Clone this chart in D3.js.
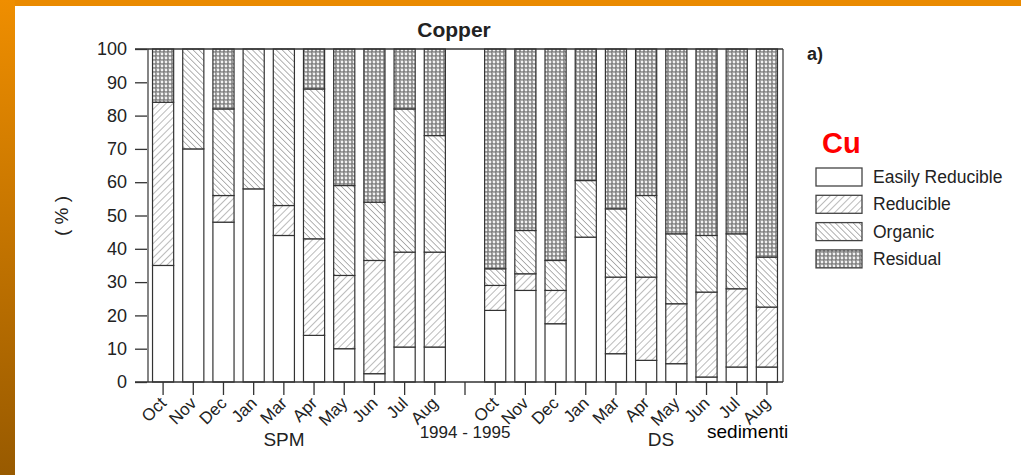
<!DOCTYPE html>
<html><head><meta charset="utf-8">
<script src="https://cdn.jsdelivr.net/npm/d3@7"></script>
<style>
html,body{margin:0;padding:0;background:#fff;}
svg{display:block;font-family:"Liberation Sans",Arial,sans-serif;}
</style></head>
<body>
<svg id="c" width="1021" height="475"></svg>
<script>
// ---- data ----
const monthsSPM = ["Oct","Nov","Dec","Jan","Mar","Apr","May","Jun","Jul","Aug"];
const monthsDS  = ["Oct","Nov","Dec","Jan","Mar","Apr","May","Jun","Jul","Aug"];
const fractions = ["Easily Reducible","Reducible","Organic","Residual"];
// SPM (suspended particulate matter)
const spmEasily    = [35, 70, 48, 58, 44, 14, 10, 2.5, 10.5, 10.5];
const spmReducible = [49, 0, 8, 0, 9, 29, 22, 34, 28.5, 28.5];
const spmOrganic   = [0, 30, 26, 42, 47, 45, 27, 17.5, 43, 35];
const spmResidual  = [16, 0, 18, 0, 0, 12, 41, 46, 18, 26];
// DS (deposited sediments)
const dsEasily     = [21.5, 27.5, 17.5, 43.5, 8.5, 6.5, 5.5, 1.5, 4.5, 4.5];
const dsReducible  = [7.5, 5, 10, 0, 23, 25, 18, 25.5, 23.5, 18];
const dsOrganic    = [5, 13, 9, 17, 20.5, 24.5, 21, 17, 16.5, 15];
const dsResidual   = [66, 54.5, 63.5, 39.5, 48, 44, 55.5, 56, 55.5, 62.5];
const yTicks = [0,10,20,30,40,50,60,70,80,90,100];

// ---- build rows ----
const rows = [];
monthsSPM.forEach((m,i)=>rows.push({id:"SPM-"+i, label:m, vals:[spmEasily[i],spmReducible[i],spmOrganic[i],spmResidual[i]]}));
rows.push({id:"gap", label:"", vals:null});
monthsDS.forEach((m,i)=>rows.push({id:"DS-"+i, label:m, vals:[dsEasily[i],dsReducible[i],dsOrganic[i],dsResidual[i]]}));

const svg = d3.select("#c");

// background frame (orange border)
const defs = svg.append("defs");
const lg = defs.append("linearGradient").attr("id","lgrad").attr("x1",0).attr("y1",0).attr("x2",0).attr("y2",1);
lg.append("stop").attr("offset","0%").attr("stop-color","#ef8e00");
lg.append("stop").attr("offset","100%").attr("stop-color","#985a00");
svg.append("rect").attr("x",0).attr("y",0).attr("width",1021).attr("height",475).attr("fill","#fff");
svg.append("rect").attr("x",0).attr("y",0).attr("width",1021).attr("height",6).attr("fill","#ea8a00");
svg.append("rect").attr("x",0).attr("y",0).attr("width",15).attr("height",475).attr("fill","url(#lgrad)");

// patterns
function hatch(id, angle, spacing, stroke, sw){
  const p = defs.append("pattern").attr("id",id).attr("patternUnits","userSpaceOnUse")
    .attr("width",spacing).attr("height",spacing).attr("patternTransform",`rotate(${angle})`);
  p.append("rect").attr("width",spacing).attr("height",spacing).attr("fill","#fff");
  p.append("line").attr("x1",0).attr("y1",0).attr("x2",0).attr("y2",spacing).attr("stroke",stroke).attr("stroke-width",sw);
}
hatch("pRed", 45, 5, "#777", 1);
hatch("pOrg", -45, 4.2, "#666", 1);
const pr = defs.append("pattern").attr("id","pRes").attr("patternUnits","userSpaceOnUse").attr("width",4).attr("height",4);
pr.append("rect").attr("width",4).attr("height",4).attr("fill","#808080");
pr.append("circle").attr("cx",2).attr("cy",2).attr("r",1.4).attr("fill","#f2f2f2");
pr.append("circle").attr("cx",0).attr("cy",0).attr("r",0.7).attr("fill","#cfcfcf");
const fills = ["#fff","url(#pRed)","url(#pOrg)","url(#pRes)"];

// scales
const x = d3.scaleBand().domain(rows.map(r=>r.id)).range([148,782]).paddingInner(0.3).paddingOuter(0.15);
const y = d3.scaleLinear().domain([0,100]).range([382,49]);

// bars
const g = svg.append("g");
rows.filter(r=>r.vals).forEach(r=>{
  let acc = 0;
  r.vals.forEach((v,k)=>{
    if(v<=0){return;}
    g.append("rect").attr("x",x(r.id)).attr("width",x.bandwidth())
      .attr("y",y(acc+v)).attr("height",y(acc)-y(acc+v))
      .attr("fill",fills[k]).attr("stroke","#333").attr("stroke-width",1.2);
    acc += v;
  });
});

// frame
const lineC = "#333";
svg.append("line").attr("x1",135).attr("x2",783).attr("y1",y(0)).attr("y2",y(0)).attr("stroke",lineC).attr("stroke-width",1.5);
svg.append("line").attr("x1",135).attr("x2",783).attr("y1",y(100)).attr("y2",y(100)).attr("stroke",lineC).attr("stroke-width",1.5);
svg.append("line").attr("x1",148).attr("x2",148).attr("y1",y(0)).attr("y2",y(100)).attr("stroke",lineC).attr("stroke-width",1.2);
svg.append("line").attr("x1",783).attr("x2",783).attr("y1",y(0)).attr("y2",y(100)).attr("stroke",lineC).attr("stroke-width",1.2);

// y axis
const ya = svg.append("g").attr("transform","translate(147,0)")
  .call(d3.axisLeft(y).tickValues(yTicks).tickSize(12).tickPadding(8));
ya.select(".domain").remove();
ya.selectAll("line").attr("stroke",lineC).attr("stroke-width",1.3);
ya.selectAll("text").attr("font-size",18).attr("fill","#222").attr("font-family","Liberation Sans, Arial, sans-serif");

// x axis
const labelMap = new Map(rows.map(r=>[r.id,r.label]));
const xa = svg.append("g").attr("transform",`translate(0,${y(0)})`)
  .call(d3.axisBottom(x).tickSize(13).tickFormat(d=>labelMap.get(d)));
xa.select(".domain").remove();
xa.selectAll("line").attr("stroke",lineC).attr("stroke-width",1.3);
xa.selectAll("text").attr("font-size",17).attr("fill","#222").attr("font-family","Liberation Sans, Arial, sans-serif")
  .attr("text-anchor","end").attr("y",0).attr("dy","0.35em")
  .attr("transform","translate(0,18) rotate(-45)");

// titles & labels
svg.append("text").attr("x",454).attr("y",37).attr("text-anchor","middle").attr("font-size",21).attr("font-weight","bold").attr("fill","#222").text("Copper");
svg.append("text").attr("x",807).attr("y",60).attr("font-size",18).attr("font-weight","bold").attr("fill","#222").text("a)");
svg.append("text").attr("transform","translate(68,216) rotate(-90)").attr("text-anchor","middle").attr("font-size",19).attr("fill","#222").text("( % )");
svg.append("text").attr("x",284).attr("y",446).attr("text-anchor","middle").attr("font-size",19).attr("fill","#222").text("SPM");
svg.append("text").attr("x",465).attr("y",438).attr("text-anchor","middle").attr("font-size",17).attr("fill","#222").text("1994 - 1995");
svg.append("text").attr("x",661).attr("y",446).attr("text-anchor","middle").attr("font-size",19).attr("fill","#222").text("DS");
svg.append("text").attr("x",707).attr("y",438).attr("font-size",19).attr("fill","#000").attr("font-family","Arial, Liberation Sans, sans-serif").text("sedimenti");

// legend
svg.append("text").attr("x",822).attr("y",153).attr("font-size",29).attr("font-weight","bold").attr("fill","#ff0000").text("Cu");
const lgG = svg.append("g");
fractions.forEach((f,i)=>{
  const yy = 168 + i*27.3;
  lgG.append("rect").attr("x",816).attr("y",yy).attr("width",46).attr("height",18).attr("fill",fills[i]).attr("stroke","#444").attr("stroke-width",1.3);
  lgG.append("text").attr("x",873).attr("y",yy+9).attr("dy","0.35em").attr("font-size",17.5).attr("fill","#222").text(f);
});
</script>
</body></html>
